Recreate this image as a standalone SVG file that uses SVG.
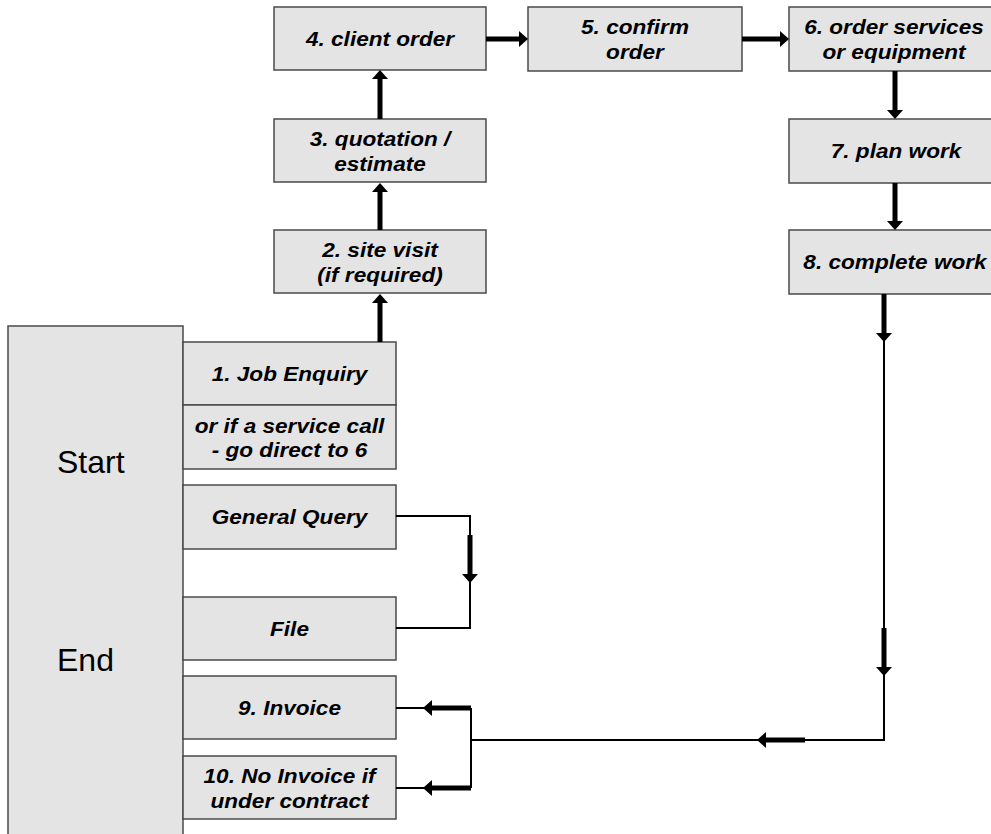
<svg xmlns="http://www.w3.org/2000/svg" width="991" height="834" viewBox="0 0 991 834">
<style>
.box{fill:#e4e4e4;stroke:#4a4a4a;stroke-width:1.5}
.lbl{font-family:"Liberation Sans",Arial,sans-serif;font-size:20px;font-weight:bold;font-style:italic;fill:#000;text-anchor:middle}
.big{font-family:"Liberation Sans",Arial,sans-serif;font-size:32px;fill:#000}
.thick{fill:none;stroke:#000;stroke-width:5;marker-end:url(#ah)}
.thin{fill:none;stroke:#000;stroke-width:2}
</style>
<defs>
<marker id="ah" markerUnits="userSpaceOnUse" markerWidth="10" markerHeight="16" refX="0" refY="8" orient="auto" overflow="visible">
<path d="M0,0 L9,8 L0,16 z" fill="#000"/>
</marker>
</defs>
<rect width="991" height="834" fill="#fff"/>
<g id="startend">
<rect class="box" x="8" y="326" width="175" height="530"/>
<text class="big" x="57" y="473">Start</text>
<text class="big" x="57" y="671">End</text>
</g>
<g id="n1"><rect class="box" x="183" y="342" width="213" height="63"/>
<text class="lbl" transform="translate(289.5,381) scale(1.13,1)">1. Job Enquiry</text></g>
<g id="n1b"><rect class="box" x="183" y="405" width="213" height="64"/>
<text class="lbl" transform="translate(289.5,432.5) scale(1.13,1)"><tspan x="0">or if a service call</tspan><tspan x="0" dy="25">- go direct to 6</tspan></text></g>
<g id="gq"><rect class="box" x="183" y="485" width="213" height="64"/>
<text class="lbl" transform="translate(289.5,524) scale(1.13,1)">General Query</text></g>
<g id="file"><rect class="box" x="183" y="597" width="213" height="63"/>
<text class="lbl" transform="translate(289.5,635.5) scale(1.13,1)">File</text></g>
<g id="n9"><rect class="box" x="183" y="676" width="213" height="63"/>
<text class="lbl" transform="translate(289.5,715) scale(1.13,1)">9. Invoice</text></g>
<g id="n10"><rect class="box" x="183" y="756" width="213" height="63"/>
<text class="lbl" transform="translate(289.5,783) scale(1.13,1)"><tspan x="0">10. No Invoice if</tspan><tspan x="0" dy="25">under contract</tspan></text></g>
<g id="n2"><rect class="box" x="274" y="230" width="212" height="63"/>
<text class="lbl" transform="translate(380,257) scale(1.13,1)"><tspan x="0">2. site visit</tspan><tspan x="0" dy="25">(if required)</tspan></text></g>
<g id="n3"><rect class="box" x="274" y="119" width="212" height="63"/>
<text class="lbl" transform="translate(380,146) scale(1.13,1)"><tspan x="0">3. quotation /</tspan><tspan x="0" dy="25">estimate</tspan></text></g>
<g id="n4"><rect class="box" x="274" y="7" width="212" height="63"/>
<text class="lbl" transform="translate(380,46) scale(1.13,1)">4. client order</text></g>
<g id="n5"><rect class="box" x="528" y="7" width="214" height="64"/>
<text class="lbl" transform="translate(635,34) scale(1.13,1)"><tspan x="0">5. confirm</tspan><tspan x="0" dy="25">order</tspan></text></g>
<g id="n6"><rect class="box" x="789" y="7" width="215" height="64"/>
<text class="lbl" transform="translate(894,34) scale(1.13,1)"><tspan x="0">6. order services</tspan><tspan x="0" dy="25">or equipment</tspan></text></g>
<g id="n7"><rect class="box" x="789" y="119" width="215" height="64"/>
<text class="lbl" transform="translate(896,158) scale(1.13,1)">7. plan work</text></g>
<g id="n8"><rect class="box" x="789" y="230" width="215" height="64"/>
<text class="lbl" transform="translate(895,269) scale(1.13,1)">8. complete work</text></g>
<g id="connectors">
<path class="thick" d="M380,342 V303"/>
<path class="thick" d="M380,230 V192"/>
<path class="thick" d="M380,119 V79"/>
<path class="thick" d="M486,39 H519"/>
<path class="thick" d="M742,39 H780"/>
<path class="thick" d="M895,71 V110"/>
<path class="thick" d="M895,183 V221"/>
<path class="thin" d="M884,340 V630"/>
<path class="thin" d="M884,674 V740 H471"/>
<path class="thin" d="M471,708 V788"/>
<path class="thin" d="M425,708 H396"/>
<path class="thin" d="M425,788 H396"/>
<path class="thin" d="M396,516 H470 V628 H396"/>
<path class="thick" d="M884,294 V333"/>
<path class="thick" d="M884,628 V667"/>
<path class="thick" d="M805,740 H766"/>
<path class="thick" d="M471,708 H432"/>
<path class="thick" d="M471,788 H432"/>
<path class="thick" d="M470,535 V574"/>
</g>
</svg>
